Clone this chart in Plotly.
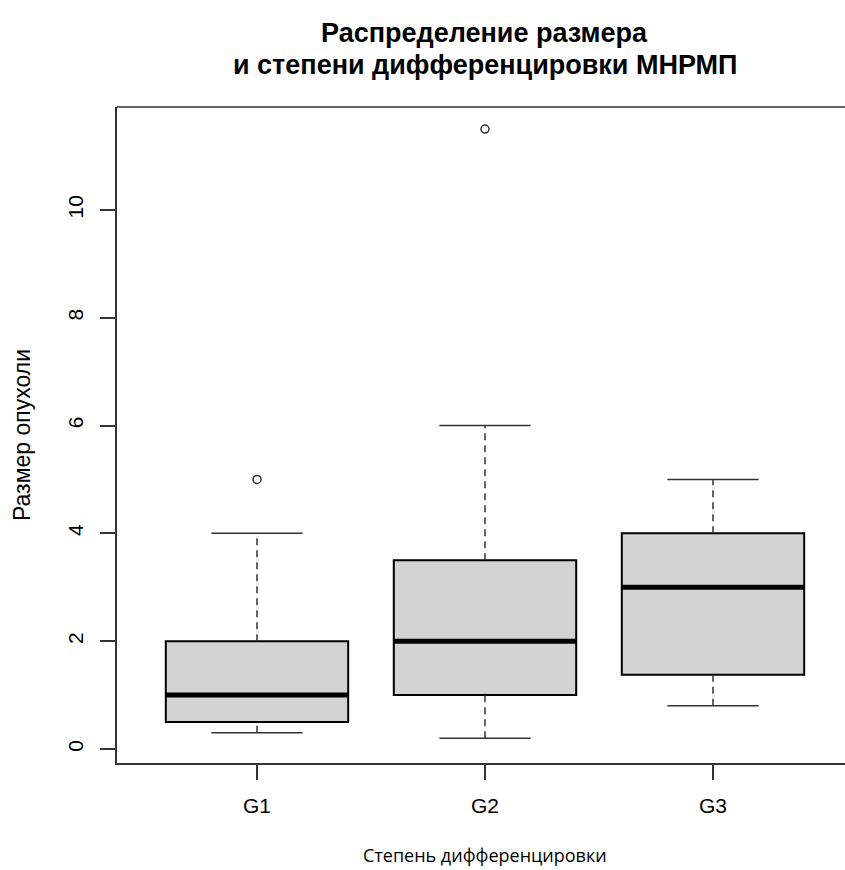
import plotly.graph_objects as go

# ---- data ----
groups = ["G1", "G2", "G3"]
lower_whisker = [0.3, 0.2, 0.8]
q1 = [0.5, 1.0, 1.375]
median = [1.0, 2.0, 3.0]
q3 = [2.0, 3.5, 4.0]
upper_whisker = [4.0, 6.0, 5.0]
outlier_group = ["G1", "G2"]
outlier_value = [5.0, 11.5]
y_ticks = [0, 2, 4, 6, 8, 10]

title_lines = ["Распределение размера", "и степени дифференцировки МНРМП"]
x_title = "Степень дифференцировки"
y_title = "Размер опухоли"

# ---- styling ----
BOX_W = 0.8
CAP_W = 0.4
FILL = "#D3D3D3"
INK = "#000000"
AX = "#333333"
FONT = "Liberation Sans, Arial, sans-serif"

pos = [i + 1 for i in range(len(groups))]
gpos = {g: p for g, p in zip(groups, pos)}

fig = go.Figure()

# whiskers (dashed)
wx, wy = [], []
for p, lo, a, b, hi in zip(pos, lower_whisker, q1, q3, upper_whisker):
    wx += [p, p, None, p, p, None]
    wy += [lo, a, None, b, hi, None]
fig.add_trace(go.Scatter(x=wx, y=wy, mode="lines", hoverinfo="skip",
                         line=dict(color=AX, width=1.5, dash="7px,5px"),
                         showlegend=False))

# caps
cx, cy = [], []
for p, lo, hi in zip(pos, lower_whisker, upper_whisker):
    cx += [p - CAP_W / 2, p + CAP_W / 2, None, p - CAP_W / 2, p + CAP_W / 2, None]
    cy += [lo, lo, None, hi, hi, None]
fig.add_trace(go.Scatter(x=cx, y=cy, mode="lines", hoverinfo="skip",
                         line=dict(color=AX, width=1.5), showlegend=False))

# boxes
fig.add_trace(go.Box(x=pos, q1=q1, median=median, q3=q3,
                     lowerfence=q1, upperfence=q3, width=BOX_W,
                     fillcolor=FILL, line=dict(color=INK, width=2),
                     whiskerwidth=0, boxpoints=False, showlegend=False))

# thick medians
mx, my = [], []
for p, m in zip(pos, median):
    mx += [p - BOX_W / 2, p + BOX_W / 2, None]
    my += [m, m, None]
fig.add_trace(go.Scatter(x=mx, y=my, mode="lines", hoverinfo="skip",
                         line=dict(color=INK, width=5), showlegend=False))

# outliers
fig.add_trace(go.Scatter(x=[gpos[g] for g in outlier_group], y=outlier_value,
                         mode="markers", showlegend=False,
                         marker=dict(symbol="circle-open", size=8,
                                     color=AX, line=dict(width=1.5, color=AX))))

fig.update_layout(
    width=845, height=870, autosize=False,
    margin=dict(l=117, r=0, t=107, b=107, pad=0),
    paper_bgcolor="white", plot_bgcolor="white",
    font=dict(family=FONT, size=16, color="#000000"),
    xaxis=dict(range=[0.386, 3.579], tickmode="array", tickvals=pos,
               ticktext=groups, showgrid=False, zeroline=False,
               showline=True, linecolor=AX, linewidth=1.5,
               ticks="outside", ticklen=15, tickwidth=1.5, tickcolor=AX,
               ticklabelstandoff=8, tickfont=dict(size=21, family=FONT)),
    yaxis=dict(range=[-0.26, 11.91], tickmode="array", tickvals=y_ticks,
               showgrid=False, zeroline=False,
               showline=True, linecolor=AX, linewidth=1.5,
               ticks="outside", ticklen=15, tickwidth=1.5, tickcolor=AX,
               tickangle=-90, ticklabelstandoff=9,
               tickfont=dict(size=21, family=FONT)),
    shapes=[dict(type="line", xref="paper", yref="paper", x0=0, x1=1,
                 y0=1, y1=1, line=dict(color=AX, width=1.5))],
    annotations=[
        dict(text="<b>" + title_lines[0] + "</b>", xref="x", yref="paper", x=2, y=1,
             yshift=107 - 33, showarrow=False, xanchor="center", yanchor="middle",
             font=dict(size=27, family=FONT, color="#000")),
        dict(text="<b>" + title_lines[1] + "</b>", xref="x", yref="paper", x=2, y=1,
             yshift=107 - 65, showarrow=False, xanchor="center", yanchor="middle",
             font=dict(size=27, family=FONT, color="#000")),
        dict(text=x_title, xref="x", yref="paper", x=2, y=0, yshift=-92,
             showarrow=False, xanchor="center", yanchor="middle",
             font=dict(size=18, family="Open Sans, sans-serif", color="#000")),
        dict(text=y_title, xref="paper", yref="paper", x=(22 - 117) / 728,
             y=0.5, showarrow=False, xanchor="center", yanchor="middle",
             textangle=-90, font=dict(size=23, family=FONT, color="#000")),
    ],
)

fig.write_html("out.html")
